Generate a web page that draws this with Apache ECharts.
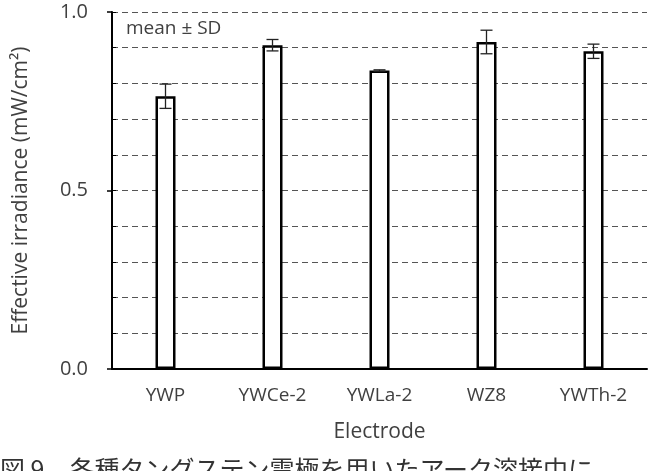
<!DOCTYPE html>
<html><head><meta charset="utf-8">
<script src="https://cdn.jsdelivr.net/npm/echarts@6/dist/echarts.min.js"></script>
<style>html,body{margin:0;padding:0;background:#fff}#c{width:656px;height:471px}</style>
</head><body><div id="c"></div>
<script>
const categories = ['YWP', 'YWCe-2', 'YWLa-2', 'WZ8', 'YWTh-2'];
const meanValues = [0.764, 0.907, 0.836, 0.916, 0.890];
const sdValues = [0.034, 0.016, 0.002, 0.033, 0.020];
const yTickLabels = ['0.0', '0.5', '1.0'];

const font = '"Open Sans", Lato, sans-serif';
const chart = echarts.init(document.getElementById('c'));
const errData = categories.map((c, i) => [i, meanValues[i] - sdValues[i], meanValues[i] + sdValues[i]]);
const gridDash = { color: '#555', type: [6, 4], width: 1 };

chart.setOption({
  animation: false,
  grid: { left: 112, right: 9, top: 12, bottom: 102 },
  xAxis: {
    type: 'category', data: categories,
    name: 'Electrode', nameLocation: 'middle', nameGap: 53,
    nameTextStyle: { fontFamily: font, fontSize: 21, color: '#404040', letterSpacing: 1 },
    axisLine: { lineStyle: { color: '#000', width: 2 } },
    axisTick: { show: false },
    axisLabel: { fontFamily: font, fontSize: 19, color: '#404040', margin: 17 }
  },
  yAxis: [{
    type: 'value', min: 0, max: 1, interval: 0.5,
    name: 'Effective irradiance (mW/cm²)', nameLocation: 'middle', nameGap: 80,
    nameTextStyle: { fontFamily: font, fontSize: 21, color: '#404040', letterSpacing: 1.5 },
    axisLine: { show: true, lineStyle: { color: '#000', width: 2 } },
    axisTick: { show: true, length: 5, lineStyle: { color: '#000', width: 1.5 } },
    axisLabel: { fontFamily: font, fontSize: 20, color: '#404040', margin: 24, letterSpacing: 2.5,
      formatter: v => yTickLabels[Math.round(v * 2)] },
    splitLine: { show: true, lineStyle: gridDash },
    minorSplitLine: { show: true, lineStyle: gridDash },
    minorTick: { show: false, splitNumber: 5 }
  }, {
    type: 'value', min: 0, max: 1, interval: 0.1, position: 'left',
    axisLine: { show: false }, axisLabel: { show: false }, splitLine: { show: false },
    axisTick: { show: true, inside: true, length: 4, lineStyle: { color: '#000', width: 1 } }
  }],
  series: [{
    type: 'bar', data: meanValues, barWidth: 20, z: 2,
    itemStyle: { color: '#fff', borderColor: '#000', borderWidth: 2.5 }
  }, {
    type: 'custom', data: errData, z: 5,
    renderItem: (params, api) => {
      const x = api.value(0);
      const lo = api.coord([x, api.value(1)]);
      const hi = api.coord([x, api.value(2)]);
      const w = 6;
      const st = { stroke: '#222', lineWidth: 1.3 };
      return { type: 'group', children: [
        { type: 'line', shape: { x1: lo[0], y1: lo[1], x2: hi[0], y2: hi[1] }, style: st },
        { type: 'line', shape: { x1: hi[0] - w, y1: hi[1], x2: hi[0] + w, y2: hi[1] }, style: st },
        { type: 'line', shape: { x1: lo[0] - w, y1: lo[1], x2: lo[0] + w, y2: lo[1] }, style: st }
      ]};
    }
  }],
  graphic: [
    { type: 'text', left: 126, top: 19, style: { text: 'mean ± SD', fontFamily: font, fontSize: 19, fill: '#404040', letterSpacing: 1.5 } },
    { type: 'text', left: 0, top: 457, style: { text: '図 9　各種タングステン電極を用いたアーク溶接中に', fontFamily: '"Noto Sans CJK JP"', fontSize: 25, fill: '#333', letterSpacing: 3 } }
  ]
});
</script></body></html>
